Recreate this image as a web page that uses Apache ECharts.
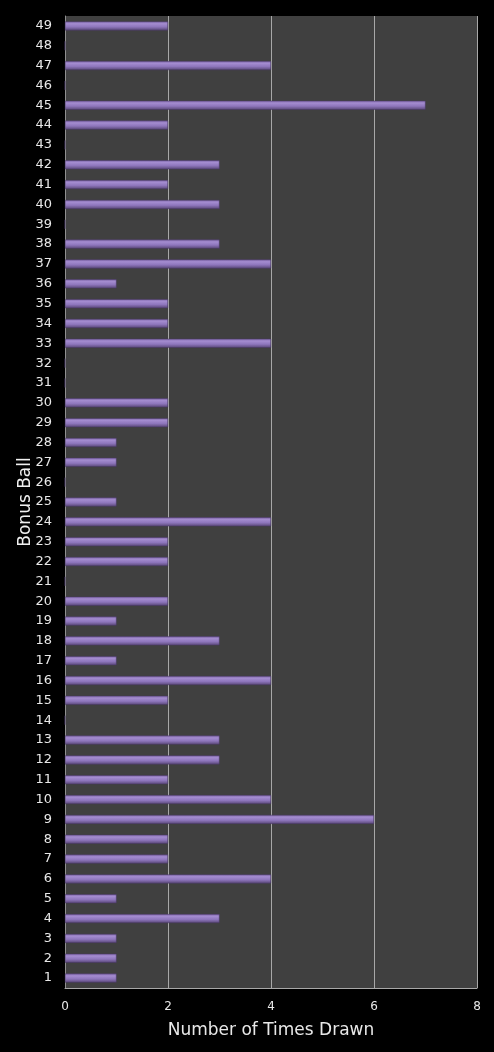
<!DOCTYPE html>
<html><head><meta charset="utf-8">
<script src="https://cdn.jsdelivr.net/npm/echarts@6/dist/echarts.min.js"></script>
<style>html,body{margin:0;padding:0;background:#000;}#c{width:494px;height:1052px;}</style>
</head><body><div id="c"></div>
<script>
var categories = [];
for (var i = 1; i <= 49; i++) categories.push(String(i));
var timesDrawn = [1,1,1,3,1,4,2,2,6,4,2,3,3,0,2,4,1,3,1,2,0,2,2,4,1,0,1,1,2,2,0,0,4,2,2,1,4,3,0,3,2,3,0,2,7,0,4,0,2];
var xTicks = [0,2,4,6,8];
var chart = echarts.init(document.getElementById('c'));
chart.setOption({
  backgroundColor: '#000',
  animation: false,
  grid: {left: 65, right: 17, top: 16, bottom: 64, show: true, backgroundColor: '#404040', borderWidth: 0},
  xAxis: {
    type: 'value', min: xTicks[0], max: xTicks[xTicks.length-1], interval: 2,
    name: 'Number of Times Drawn', nameLocation: 'middle', nameGap: 34,
    nameTextStyle: {color: '#e8e8e8', fontSize: 17, fontFamily: 'DejaVu Sans'},
    axisLine: {show: true, lineStyle: {color: '#a8a8a8', width: 1}},
    axisTick: {show: false},
    axisLabel: {color: '#e8e8e8', fontSize: 12, fontFamily: 'DejaVu Sans', margin: 13},
    splitLine: {show: true, lineStyle: {color: '#a8a8a8', width: 1}}
  },
  yAxis: {
    type: 'category', data: categories,
    name: 'Bonus Ball', nameLocation: 'middle', nameGap: 31, nameRotate: 90,
    nameMoveOverlap: false,
    nameTextStyle: {color: '#f0f0f0', fontSize: 17, fontFamily: 'DejaVu Sans'},
    axisLine: {show: true, lineStyle: {color: '#909090', width: 1}}, axisTick: {show: false},
    axisLabel: {color: '#e8e8e8', fontSize: 13, fontFamily: 'DejaVu Sans', margin: 13, interval: 0},
    splitLine: {show: false}
  },
  series: [{
    type: 'bar', data: timesDrawn, barWidth: 9,
    itemStyle: {
      color: new echarts.graphic.LinearGradient(0,0,0,1,[
        {offset:0, color:'#7e66a8'},
        {offset:0.25, color:'#a48cd0'},
        {offset:0.6, color:'#8e76bc'},
        {offset:1, color:'#584676'}
      ]),
      borderColor: '#4a3868', borderWidth: 0.5
    }
  }]
});
</script></body></html>
